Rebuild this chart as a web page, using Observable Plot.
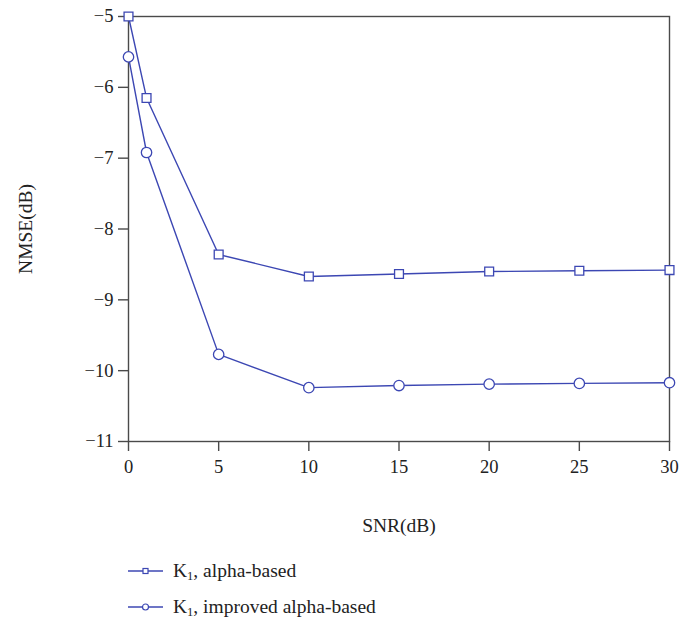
<!DOCTYPE html>
<html>
<head>
<meta charset="utf-8">
<script src="https://cdn.jsdelivr.net/npm/d3@7"></script>
<script src="https://cdn.jsdelivr.net/npm/@observablehq/plot@0.6"></script>
<style>
  body { margin: 0; background: #fff; }
  #wrap { position: relative; width: 679px; height: 618px; font-family: "Liberation Serif", "DejaVu Serif", serif; color: #222; }
  .leg { position: absolute; left: 128px; height: 24px; display: flex; align-items: center; font-size: 19.5px; white-space: nowrap; }
  .leg svg { margin-right: 10px; }
  .leg sub { font-size: 12.5px; vertical-align: -3px; line-height: 0; }
</style>
</head>
<body>
<div id="wrap"></div>
<script>
const snr = [0, 1, 5, 10, 15, 20, 25, 30];
const alphaBased = [-5.0, -6.15, -8.36, -8.67, -8.635, -8.60, -8.59, -8.58];
const improvedAlphaBased = [-5.57, -6.92, -9.77, -10.24, -10.21, -10.19, -10.18, -10.17];
const seriesNames = ["alpha-based", "improved alpha-based"];
const xTicks = [0, 5, 10, 15, 20, 25, 30];
const yTicks = [-5, -6, -7, -8, -9, -10, -11];

const color = "#3c47b3";
const data = [
  ...snr.map((x, i) => ({x, y: alphaBased[i], s: seriesNames[0]})),
  ...snr.map((x, i) => ({x, y: improvedAlphaBased[i], s: seriesNames[1]}))
];
const fmt = d3.format("d");

const chart = Plot.plot({
  width: 679,
  height: 548,
  marginLeft: 128,
  marginRight: 10,
  marginTop: 16,
  marginBottom: 107,
  style: {fontFamily: "Liberation Serif, DejaVu Serif, serif", fontSize: "18.5px", color: "#222", background: "#fff"},
  x: {domain: [0, 30], ticks: xTicks, tickFormat: fmt},
  y: {domain: [-11, -5], ticks: yTicks, tickFormat: fmt},
  marks: [
    Plot.frame({stroke: "#4a4a4a", strokeWidth: 1.4}),
    Plot.axisX({ticks: xTicks, tickFormat: fmt, tickSize: 10, tickPadding: 8, label: null, stroke: "#4a4a4a", strokeWidth: 1.4, fontSize: 18.5}),
    Plot.axisY({ticks: yTicks, tickFormat: fmt, tickSize: 10, tickPadding: 5, label: null, stroke: "#4a4a4a", strokeWidth: 1.4, fontSize: 18.5}),
    Plot.text(["SNR(dB)"], {frameAnchor: "bottom", dy: 90, textAnchor: "middle", fontSize: 19.5, fill: "#222"}),
    Plot.text(["NMSE(dB)"], {frameAnchor: "left", dx: -103, textAnchor: "middle", rotate: -90, fontSize: 19.5, fill: "#222"}),
    Plot.line(data, {x: "x", y: "y", z: "s", stroke: color, strokeWidth: 1.4}),
    Plot.dot(data.filter(d => d.s === seriesNames[0]), {x: "x", y: "y", symbol: "square", r: 5, stroke: color, fill: "white", strokeWidth: 1.3}),
    Plot.dot(data.filter(d => d.s === seriesNames[1]), {x: "x", y: "y", symbol: "circle", r: 5.2, stroke: color, fill: "white", strokeWidth: 1.3})
  ]
});
const wrap = document.getElementById("wrap");
chart.style.position = "absolute";
chart.style.left = "0";
chart.style.top = "0";
wrap.appendChild(chart);

const legendTops = [559, 595];
seriesNames.forEach((name, i) => {
  const div = document.createElement("div");
  div.className = "leg";
  div.style.top = legendTops[i] + "px";
  const marker = i === 0
    ? `<rect x="15" y="3.5" width="5" height="5" fill="white" stroke="${color}" stroke-width="1.2"/>`
    : `<circle cx="17.5" cy="6" r="3" fill="white" stroke="${color}" stroke-width="1.2"/>`;
  div.innerHTML = `<svg width="35" height="12"><line x1="0" y1="6" x2="35" y2="6" stroke="${color}" stroke-width="1.3"/>${marker}</svg><span>K<sub>1</sub>, ${name}</span>`;
  wrap.appendChild(div);
});
</script>
</body>
</html>
